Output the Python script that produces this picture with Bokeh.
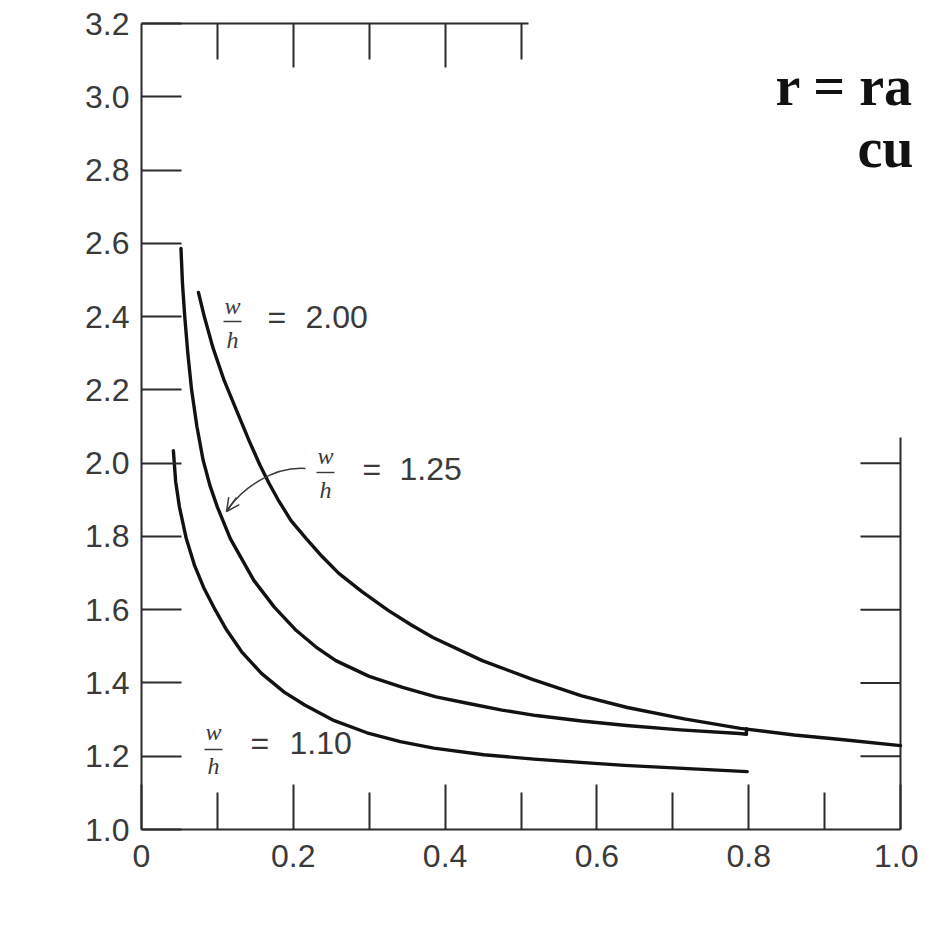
import math
from bokeh.plotting import figure
from bokeh.models import Range1d, LinearAxis, FixedTicker, Label, Arrow, OpenHead
from bokeh.embed import file_html
from bokeh.resources import INLINE

# ---------------- data ----------------
series_names = ["w/h = 1.10", "w/h = 1.25", "w/h = 2.00"]

r_h_110 = [0.042, 0.045, 0.050, 0.059, 0.070, 0.082, 0.097, 0.112, 0.132, 0.158, 0.188,
           0.215, 0.254, 0.297, 0.341, 0.385, 0.451, 0.517, 0.636, 0.798]
kt_110 = [2.034, 1.950, 1.880, 1.794, 1.720, 1.660, 1.600, 1.545, 1.485, 1.426, 1.375,
          1.340, 1.297, 1.264, 1.240, 1.222, 1.204, 1.192, 1.175, 1.158]

r_h_125 = [0.052, 0.054, 0.057, 0.061, 0.066, 0.073, 0.081, 0.090, 0.100, 0.117, 0.148,
           0.175, 0.204, 0.230, 0.256, 0.300, 0.344, 0.388, 0.431, 0.475, 0.520, 0.580,
           0.639, 0.710, 0.788, 0.797, 0.797]
kt_125 = [2.586, 2.490, 2.400, 2.300, 2.200, 2.100, 2.010, 1.940, 1.880, 1.794, 1.680,
          1.607, 1.543, 1.498, 1.461, 1.418, 1.388, 1.362, 1.344, 1.326, 1.311, 1.296,
          1.284, 1.272, 1.262, 1.260, 1.275]

r_h_200 = [0.075, 0.083, 0.094, 0.109, 0.126, 0.142, 0.156, 0.168, 0.180, 0.197, 0.217,
           0.238, 0.260, 0.290, 0.325, 0.355, 0.384, 0.449, 0.515, 0.580, 0.640, 0.715,
           0.789, 0.860, 0.925, 1.000]
kt_200 = [2.466, 2.398, 2.316, 2.225, 2.140, 2.060, 1.995, 1.945, 1.900, 1.843, 1.794,
          1.745, 1.699, 1.650, 1.598, 1.559, 1.524, 1.461, 1.410, 1.365, 1.333, 1.302,
          1.276, 1.258, 1.245, 1.229]

x_ticks = [0.0, 0.2, 0.4, 0.6, 0.8, 1.0]
x_tick_labels = ["0", "0.2", "0.4", "0.6", "0.8", "1.0"]
x_minor_ticks = [0.1, 0.3, 0.5, 0.7, 0.9]
y_ticks = [1.0, 1.2, 1.4, 1.6, 1.8, 2.0, 2.2, 2.4, 2.6, 2.8, 3.0, 3.2]
y_tick_labels = ["1.0", "1.2", "1.4", "1.6", "1.8", "2.0", "2.2", "2.4", "2.6", "2.8", "3.0", "3.2"]
top_ticks = [0.2, 0.4]
top_minor_ticks = [0.1, 0.3, 0.5]
right_ticks = [1.2, 1.4, 1.6, 1.8, 2.0]

# ---------------- layout ----------------
FIG_W, FIG_H = 918, 913
FRAME_L, FRAME_T, FRAME_B = 141, 23, 829      # pixel positions of the frame
PX_PER_X = 759.0                              # pixels per unit of r/h
PX_PER_Y = (FRAME_B - FRAME_T) / 2.2          # pixels per unit of Kt
X_END = (FIG_W - FRAME_L) / PX_PER_X          # frame runs to the right edge


def D(sx, sy):
    """pixel position -> data position (for annotation placement)"""
    return (sx - FRAME_L) / PX_PER_X, 1.0 + (FRAME_B - sy) / PX_PER_Y


INK = "#121212"
AXC = "#2b2b2b"
TXT = "#3a3a3a"
FONT = "Liberation Sans"
SERIF = "Liberation Serif"

p = figure(frame_width=FIG_W - FRAME_L, frame_height=FRAME_B - FRAME_T,
           x_range=Range1d(0, X_END), y_range=Range1d(1.0, 3.2),
           x_axis_location=None, y_axis_location=None,
           output_backend="svg", toolbar_location=None,
           min_border_left=FRAME_L, min_border_right=0,
           min_border_top=FRAME_T, min_border_bottom=FIG_H - FRAME_B)
p.outline_line_color = None
p.xgrid.visible = False
p.ygrid.visible = False
p.background_fill_color = "white"
p.border_fill_color = "white"


def style_axis(ax):
    ax.axis_line_color = AXC
    ax.axis_line_width = 2
    ax.major_tick_line_color = AXC
    ax.major_tick_line_width = 2
    ax.minor_tick_line_color = AXC
    ax.minor_tick_line_width = 2
    ax.major_tick_out = 0
    ax.minor_tick_out = 0
    ax.major_label_text_font = FONT
    ax.major_label_text_font_size = "32px"
    ax.major_label_text_color = TXT


# left axis
ya = LinearAxis(ticker=FixedTicker(ticks=y_ticks, minor_ticks=[]),
                major_label_overrides=dict(zip(y_ticks, y_tick_labels)))
style_axis(ya)
ya.major_tick_in = 40
ya.minor_tick_in = 0
ya.major_label_standoff = 12
p.add_layout(ya, "left")

# bottom axis (ends at r/h = 1.0)
xa = LinearAxis(ticker=FixedTicker(ticks=x_ticks, minor_ticks=x_minor_ticks),
                major_label_overrides=dict(zip(x_ticks, x_tick_labels)),
                bounds=(0, 1.0))
style_axis(xa)
xa.major_tick_in = 45
xa.minor_tick_in = 37
xa.major_label_standoff = 15
p.add_layout(xa, "below")

# partial top spine
ta = LinearAxis(ticker=FixedTicker(ticks=top_ticks, minor_ticks=top_minor_ticks), bounds=(0, 0.51))
style_axis(ta)
ta.major_tick_in = 44
ta.minor_tick_in = 36
ta.major_label_text_font_size = "0px"
ta.major_label_text_color = None
ta.major_label_standoff = 0
p.add_layout(ta, "above")

# partial right spine at r/h = 1.0 with inward ticks
p.segment(x0=[1.0], y0=[1.0], x1=[1.0], y1=[2.07], line_color=AXC, line_width=2)
tick_len = 40 / PX_PER_X
p.segment(x0=[1.0 - tick_len] * len(right_ticks), y0=right_ticks,
          x1=[1.0] * len(right_ticks), y1=right_ticks, line_color=AXC, line_width=2)

# ---------------- curves ----------------
for xs, ys in [(r_h_110, kt_110), (r_h_125, kt_125), (r_h_200, kt_200)]:
    p.line(xs, ys, line_width=3.4, line_color=INK, line_join="round", line_cap="round")


# ---------------- annotations ----------------
def add_label(sx, sy, text, size, font=FONT, style="normal", align="center",
              baseline="middle", angle=0.0, color=TXT):
    x, y = D(sx, sy)
    p.add_layout(Label(x=x, y=y, text=text, text_font=font, text_font_size=f"{size}px",
                       text_font_style=style, text_align=align, text_baseline=baseline,
                       angle=angle, text_color=color))


def add_bar(sx0, sx1, sy):
    x0, y = D(sx0, sy)
    x1, _ = D(sx1, sy)
    p.add_layout(Arrow(start=None, end=None, x_start=x0, y_start=y, x_end=x1, y_end=y,
                       line_color=TXT, line_width=1.4))


def fraction(cx, top_y, bar_y, bot_y, num="w", den="h", size=24):
    add_label(cx, top_y, num, size, font=SERIF, style="italic")
    add_bar(cx - 9, cx + 9, bar_y)
    add_label(cx, bot_y, den, size, font=SERIF, style="italic")


# w/h = 2.00
fraction(232, 305, 321, 339)
add_label(267, 316, "=", 32, align="left")
add_label(305, 316, "2.00", 32, align="left")

# w/h = 1.25
fraction(325, 455, 472, 489)
add_label(362, 468, "=", 32, align="left")
add_label(399, 468, "1.25", 32, align="left")

# w/h = 1.10
fraction(213, 731, 749, 765)
add_label(250, 742, "=", 32, align="left")
add_label(289, 742, "1.10", 32, align="left")

# curved pointer for w/h = 1.25
bx0, by0 = D(305, 468)
bcx0, bcy0 = D(272, 466)
bcx1, bcy1 = D(242, 488)
bx1, by1 = D(227, 509)
p.bezier(x0=[bx0], y0=[by0], x1=[bx1], y1=[by1], cx0=[bcx0], cy0=[bcy0],
         cx1=[bcx1], cy1=[bcy1], line_color=TXT, line_width=1.5)
ax0, ay0 = D(236, 497)
ax1, ay1 = D(226, 511)
p.add_layout(Arrow(end=OpenHead(size=13, line_width=1.5, line_color=TXT),
                   x_start=ax0, y_start=ay0, x_end=ax1, y_end=ay1,
                   line_color=TXT, line_width=1.5))

# y-axis title (rotated)
add_label(46, 653, "Stress concentration factor", 35, align="left", baseline="alphabetic",
          angle=math.pi / 2)
add_label(46, 227, "K", 35, style="italic", align="left", baseline="alphabetic",
          angle=math.pi / 2)
add_label(50, 203, "t", 22, style="italic", align="left", baseline="alphabetic",
          angle=math.pi / 2)

# x-axis title r/h
fraction(527, 880, 892, 903, num="r", den="h", size=20)

# heading at the top right (kept inside the canvas)
add_label(775, 85, "r = ra", 56, font=SERIF, style="bold", align="left",
          baseline="alphabetic", color="#111111")
add_label(857, 147, "cu", 56, font=SERIF, style="bold", align="left",
          baseline="alphabetic", color="#111111")

open("out.html", "w").write(file_html(p, INLINE))
